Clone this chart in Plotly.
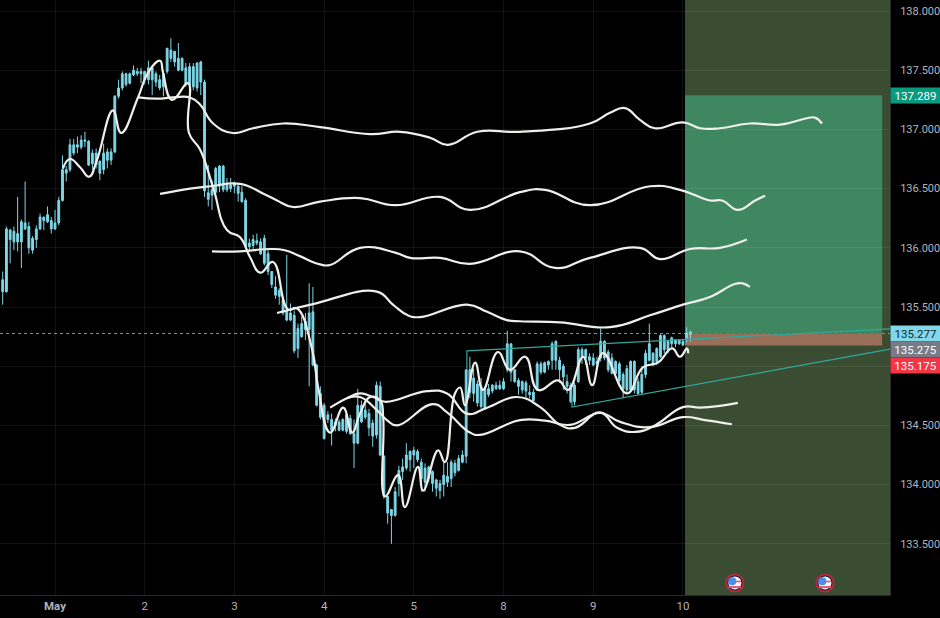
import plotly.graph_objects as go

bar_high = [
135.80,136.18,136.16,136.18,136.43,136.24,136.56,136.22,136.10,136.19,
136.29,136.26,136.35,136.26,136.32,136.43,136.78,136.69,136.92,136.92,
136.94,136.95,136.98,136.91,136.83,136.84,136.74,136.88,136.84,136.84,
137.29,137.42,137.49,137.48,137.48,137.54,137.52,137.52,137.49,137.58,
137.54,137.49,137.46,137.50,137.69,137.77,137.66,137.73,137.61,137.56,
137.56,137.56,137.57,137.58,137.42,136.70,136.57,136.685,136.70,136.70,
136.59,136.59,136.56,136.53,136.52,136.42,136.08,136.11,136.12,136.08,
136.11,135.98,135.80,135.76,135.66,135.57,135.94,135.53,135.47,135.36,
135.42,135.45,135.70,135.67,135.02,134.83,134.69,134.62,134.60,134.56,
134.55,134.56,134.60,134.59,134.55,134.81,134.71,134.71,134.64,134.55,
134.87,134.87,134.25,133.90,133.79,133.98,134.16,134.22,134.35,134.29,
134.32,134.30,134.22,134.18,134.16,134.12,134.05,134.04,134.19,134.19,
134.21,134.21,134.25,134.29,134.97,135.08,134.98,134.88,134.90,134.83,
134.85,134.85,134.87,134.88,134.90,135.30,135.19,134.97,134.90,134.88,
134.88,134.84,134.81,135.04,135.04,135.04,135.05,135.21,135.22,135.08,
135.02,134.93,134.86,134.86,135.16,135.16,135.15,135.11,135.11,135.08,
135.32,135.22,135.14,135.11,135.05,135.04,134.95,135.01,135.05,135.05,
134.90,135.00,135.14,135.36,135.12,135.16,135.27,135.27,135.22,135.25,
135.23,135.22,135.23,135.33,135.30]
bar_low = [
135.52,135.62,135.87,135.98,135.97,135.83,136.15,135.95,135.95,136.00,
136.15,136.15,136.21,136.12,136.15,136.19,136.39,136.56,136.64,136.78,
136.80,136.83,136.85,136.69,136.66,136.67,136.57,136.62,136.67,136.70,
136.80,137.26,137.33,137.36,137.38,137.45,137.45,137.39,137.38,137.38,
137.29,137.36,137.33,137.28,137.47,137.57,137.53,137.49,137.49,137.36,
137.36,137.33,137.32,137.29,136.43,136.35,136.32,136.46,136.47,136.47,
136.47,136.47,136.46,136.39,136.38,136.00,135.98,135.99,136.02,135.94,
135.85,135.77,135.66,135.57,135.52,135.43,135.38,135.38,135.11,135.07,
135.24,135.22,134.83,135.00,134.66,134.55,134.38,134.52,134.33,134.45,
134.45,134.45,134.43,134.42,134.14,134.34,134.52,134.55,134.41,134.32,
134.39,134.24,133.88,133.67,133.50,133.73,133.90,134.04,134.12,134.11,
134.14,134.19,133.94,133.94,134.02,133.94,133.90,133.88,133.90,133.98,
133.98,134.07,134.11,134.18,134.18,134.73,134.70,134.66,134.64,134.63,
134.74,134.77,134.80,134.80,134.80,134.95,134.87,134.86,134.76,134.77,
134.73,134.73,134.70,134.79,134.93,134.94,134.97,134.97,134.97,134.86,
134.80,134.77,134.69,134.67,134.86,135.02,135.01,135.01,135.00,134.97,
135.04,135.05,134.95,134.93,134.93,134.86,134.73,134.77,134.79,134.77,
134.76,134.76,134.90,135.04,135.00,135.01,135.07,135.11,135.11,135.15,
135.16,135.18,135.17,135.20,135.21]
bar_close = [
135.73,136.16,136.15,136.14,136.12,136.22,136.21,136.18,136.08,136.16,
136.26,136.26,136.28,136.23,136.21,136.40,136.66,136.66,136.87,136.87,
136.87,136.91,136.91,136.90,136.80,136.80,136.73,136.80,136.81,136.81,
137.28,137.35,137.47,137.47,137.47,137.50,137.49,137.49,137.49,137.52,
137.52,137.47,137.42,137.47,137.685,137.67,137.66,137.60,137.60,137.52,
137.53,137.53,137.56,137.57,137.40,136.465,136.49,136.67,136.69,136.69,
136.53,136.53,136.545,136.52,136.47,136.40,136.04,136.07,136.06,136.05,
136.08,135.95,135.80,135.67,135.64,135.56,135.47,135.45,135.43,135.32,
135.36,135.38,135.45,135.46,135.01,134.77,134.67,134.59,134.55,134.53,
134.53,134.55,134.59,134.56,134.43,134.67,134.67,134.63,134.60,134.52,
134.84,134.83,134.24,133.90,133.79,133.94,134.12,134.15,134.25,134.28,
134.29,134.28,134.19,134.14,134.15,134.11,134.04,134.01,134.08,134.07,
134.19,134.18,134.22,134.25,134.97,134.97,134.90,134.85,134.83,134.81,
134.81,134.84,134.84,134.84,134.87,135.19,135.19,134.97,134.88,134.87,
134.86,134.78,134.78,135.02,135.02,135.03,135.04,135.19,135.21,135.05,
135.00,134.87,134.84,134.84,135.14,135.14,135.14,135.08,135.07,135.04,
135.21,135.21,135.12,135.07,135.04,135.02,134.93,134.98,135.04,135.04,
134.87,134.93,135.11,135.19,135.11,135.15,135.26,135.26,135.21,135.24,
135.22,135.22,135.21,135.28,135.29]
bar_open = [
135.63,135.63,136.07,136.05,136.05,136.05,136.16,136.00,135.98,136.07,
136.16,136.23,136.22,136.16,136.16,136.21,136.40,136.63,136.66,136.80,
136.85,136.85,136.90,136.70,136.71,136.70,136.63,136.66,136.74,136.74,
136.81,137.28,137.35,137.38,137.39,137.46,137.47,137.47,137.42,137.42,
137.42,137.40,137.35,137.36,137.49,137.60,137.57,137.50,137.50,137.38,
137.38,137.36,137.35,137.40,136.48,136.41,136.445,136.47,136.52,136.49,
136.49,136.50,136.52,136.46,136.39,136.01,136.01,136.02,136.04,135.95,
135.87,135.80,135.69,135.60,135.59,135.45,135.39,135.39,135.13,135.15,
135.25,135.31,135.31,135.01,134.67,134.57,134.39,134.55,134.46,134.50,
134.46,134.46,134.45,134.43,134.35,134.35,134.53,134.57,134.48,134.41,
134.42,134.25,133.90,133.76,133.74,133.74,134.01,134.11,134.14,134.21,
134.25,134.21,134.05,134.02,134.05,134.01,133.97,133.95,134.00,134.02,
134.05,134.10,134.12,134.19,134.24,134.78,134.77,134.69,134.66,134.64,
134.76,134.79,134.81,134.81,134.81,134.97,134.95,134.87,134.83,134.80,
134.79,134.76,134.71,134.80,134.95,134.95,135.01,135.05,135.05,134.97,
134.91,134.83,134.70,134.70,134.87,135.08,135.07,135.05,135.01,135.02,
135.07,135.07,134.97,134.94,134.94,134.88,134.81,134.80,134.80,134.80,
134.77,134.78,134.93,135.05,135.02,135.04,135.08,135.14,135.14,135.19,
135.19,135.19,135.18,135.24,135.27]

a_bar = [36.2,41.3,45.6,50.1,52.8,56.3,61.6,67,75,84.9,98.3,106.3,114.3,119.1,127,138.4,157.1,162.5,166.5,170.5,174.5,182,186.6,191.9,199.9,208,214.6,217.3,219.2]
a_price = [137.27,137.26,137.27,137.27,137.21,137.05,136.97,137.01,137.05,137.02,136.96,136.98,136.93,136.87,136.98,136.98,137.05,137.14,137.18,137.08,137.01,137.06,137.01,137.01,137.05,137.04,137.09,137.10,137.05]
b_bar = [42.1,50.1,55.5,63.5,70.2,73.4,77.7,84.9,95.6,105,117,125,138.4,145.1,157.1,173.2,181.2,189.2,192.5,196.7,201.3,204]
b_price = [136.455,136.50,136.52,136.54,136.45,136.40,136.345,136.39,136.42,136.36,136.43,136.32,136.47,136.49,136.36,136.52,136.49,136.40,136.40,136.32,136.40,136.44]
c_bar = [56,63.5,71.5,75.5,79.5,84.9,87.6,95.6,105,109,117,125,138.4,147.8,157.1,170.5,175.9,183.9,191.9,199.1]
c_price = [135.97,135.97,135.99,135.98,135.93,135.86,135.855,136.0,135.96,135.915,135.915,135.865,135.97,135.83,135.915,136.0,135.905,135.99,136.0,136.07]
d_bar = [73.4,83,100.1,104.4,108.4,111.7,124.2,129.6,134.9,138.4,149.1,162.5,173.2,182,189.2,195.9,198,199.9]
d_price = [135.45,135.525,135.63,135.52,135.43,135.415,135.52,135.46,135.39,135.38,135.37,135.33,135.43,135.52,135.585,135.695,135.70,135.67]
e_bar = [87.6,92.1,95.6,99.1,102.3,113.5,118.9,124.2,129.6,137.6,143.8,149.1,153.1,159.8,164.4,169.2,174.5,182,186.6,191.9,196.7]
e_price = [134.65,134.73,134.77,134.74,134.70,134.79,134.77,134.60,134.65,134.74,134.655,134.505,134.48,134.61,134.48,134.445,134.50,134.655,134.65,134.665,134.69]
f_bar = [92.1,95.6,100.1,102.8,105.5,115.1,118.9,125,127.7,138.4,145.1,151.8,159.8,165.2,173.2,182,187.9,195.1]
f_price = [134.73,134.74,134.63,134.545,134.50,134.68,134.61,134.44,134.42,134.545,134.54,134.505,134.605,134.53,134.485,134.57,134.545,134.51]
g_bar = [16.1,18,20.7,23.1,25.2,29.5,31.7,36.2,38.9,42.1,42.9,45.3,49.6,49.85,52.8,56.3,60,63.5,66.2,68.9,72.3,76.3,78.7,82.8,84.4,87.6,91.1,93.5,95.6,98.3,101,101.8,102.3,105.8,107.6,111.1,112.5,116.5,118.3,121,122.4,123.7,126.4,128.5,132.5,135.7,139.8,143.2,148.6,151.3,155.3,157.7,160.6,167,171.3,175.3,179.1,181.2,183.1,183.4]
g_price = [136.67,136.75,136.68,136.60,136.74,137.16,136.97,137.27,137.48,137.58,137.48,137.25,137.39,136.97,136.83,136.51,136.15,136.09,135.92,135.79,135.88,135.48,135.49,135.14,134.82,134.44,134.65,134.44,134.60,134.74,134.71,134.57,133.90,134.08,133.81,134.15,133.95,134.29,134.19,134.77,134.82,134.67,135.03,134.80,135.12,134.97,135.08,134.80,134.88,134.80,135.08,134.84,135.11,134.77,134.99,135.03,135.15,135.08,135.15,135.11]

trend_up_bar = [124.2,124.2,237.4]
trend_up_price = [134.97,135.13,135.315]
trend_low_bar = [152.3,152.3,237.4]
trend_low_price = [134.75,134.655,135.145]

day_bars = [14,38,62,86,110,134,158,182]
day_labels = ["<b>May</b>","2","3","4","5","8","9","10"]
price_ticks = [133.5,134.0,134.5,135.0,135.5,136.0,136.5,137.0,137.5,138.0]
price_labels = ["133.500","134.000","134.500","","135.500","136.000","136.500","137.000","137.500","138.000"]
event_bars = [195.9,220]
event_price = [133.17,133.17]

last_price = 135.277
entry_price = 135.275
stop_price = 135.175
target_price = 137.289
zone_left = 182.55
box_right = 235.3

CYAN = "#7fd6e6"
WHITE = "#eeeeea"
FONT = "Roboto"
GRID = "rgba(255,255,255,0.07)"

fig = go.Figure()
fig.add_trace(go.Candlestick(
    x=list(range(len(bar_high))), open=bar_open, high=bar_high, low=bar_low, close=bar_close,
    increasing=dict(line=dict(color=CYAN, width=1), fillcolor=CYAN),
    decreasing=dict(line=dict(color=CYAN, width=1), fillcolor=CYAN),
    whiskerwidth=0, showlegend=False, hoverinfo="skip"))

for bx, py in [(trend_up_bar, trend_up_price), (trend_low_bar, trend_low_price)]:
    fig.add_trace(go.Scatter(x=bx, y=py, mode="lines", line=dict(color="#2fa99b", width=1.2),
                             showlegend=False, hoverinfo="skip"))

for bx, py in [(a_bar,a_price),(b_bar,b_price),(c_bar,c_price),(d_bar,d_price),(e_bar,e_price),(f_bar,f_price),(g_bar,g_price)]:
    fig.add_trace(go.Scatter(x=bx, y=py, mode="lines",
                             line=dict(color=WHITE, width=2.2, shape="spline", smoothing=1.3),
                             showlegend=False, hoverinfo="skip"))

# event flags
fig.add_trace(go.Scatter(x=event_bars, y=event_price, mode="markers", showlegend=False, hoverinfo="skip",
                         marker=dict(size=17, color="#141c2e", line=dict(color="#b32b40", width=2))))
fig.add_trace(go.Scatter(x=event_bars, y=event_price, mode="markers", showlegend=False, hoverinfo="skip",
                         marker=dict(size=13, color="#f4f4f4")))
fig.add_trace(go.Scatter(x=[b + 0.4 for b in event_bars], y=[p + 0.012 for p in event_price], mode="markers", showlegend=False, hoverinfo="skip",
                         marker=dict(size=6, symbol="line-ew", line=dict(color="#e0566a", width=1.6))))
fig.add_trace(go.Scatter(x=event_bars, y=[p - 0.035 for p in event_price], mode="markers", showlegend=False, hoverinfo="skip",
                         marker=dict(size=9, symbol="line-ew", line=dict(color="#e0566a", width=2))))
fig.add_trace(go.Scatter(x=[b - 0.7 for b in event_bars], y=[p + 0.014 for p in event_price], mode="markers", showlegend=False, hoverinfo="skip",
                         marker=dict(size=8, color="#4a8fe7")))

shapes = [
    dict(type="rect", layer="below", xref="x", yref="paper", x0=zone_left, x1=237.4, y0=0, y1=1,
         fillcolor="rgba(78,102,66,0.75)", line_width=0),
    dict(type="rect", layer="below", xref="x", yref="y", x0=zone_left, x1=box_right, y0=entry_price, y1=target_price,
         fillcolor="#3f8761", line_width=0),
    dict(type="rect", layer="below", xref="x", yref="y", x0=zone_left, x1=box_right, y0=stop_price, y1=entry_price,
         fillcolor="#9a6f5a", line_width=0),
    dict(type="line", layer="below", xref="paper", yref="y", x0=0, x1=1, y0=last_price, y1=last_price,
         line=dict(color="#8f9296", width=1, dash="dot")),
]

def label(price, text, bg, fg, shift=0):
    return dict(xref="paper", yref="y", x=1, y=price, xanchor="left", yanchor="middle", yshift=shift,
                text=text, showarrow=False, bgcolor=bg, width=49, height=15, borderpad=0,
                align="center", font=dict(family=FONT, size=11.5, color=fg))

annotations = [
    label(target_price, "137.289", "#089981", "#ffffff"),
    label(last_price, "135.277", "#80d8ea", "#0f2a33"),
    label(entry_price, "135.275", "#787b86", "#ffffff", -15.5),
    label(stop_price, "135.175", "#f23645", "#ffffff", -20),
]

fig.update_layout(
    width=940, height=618, autosize=False,
    margin=dict(l=0, r=50, t=0, b=23, pad=0),
    paper_bgcolor="#000000", plot_bgcolor="#000000",
    showlegend=False, shapes=shapes, annotations=annotations,
    font=dict(family=FONT, size=12, color="#b2b5be"),
    xaxis=dict(range=[-0.72, 237.4], rangeslider=dict(visible=False), tickmode="array",
               tickvals=day_bars, ticktext=day_labels, showgrid=True, gridcolor=GRID, gridwidth=1,
               zeroline=False, ticks="", showline=True, linecolor="#2b2b2b", linewidth=1, automargin=False,
               tickfont=dict(family=FONT, size=11.5, color="#b2b5be")),
    yaxis=dict(range=[133.068, 138.093], side="right", tickmode="array", tickvals=price_ticks,
               ticktext=price_labels, showgrid=True, gridcolor=GRID, gridwidth=1, zeroline=False,
               ticks="", showline=True, linecolor="#2b2b2b", linewidth=1, ticklabelstandoff=7, automargin=False,
               tickfont=dict(family=FONT, size=11, color="#b2b5be")),
)

fig.write_html("out.html", config={"displayModeBar": False},
               post_script="document.body.style.margin='0';document.body.style.background='#000';")
